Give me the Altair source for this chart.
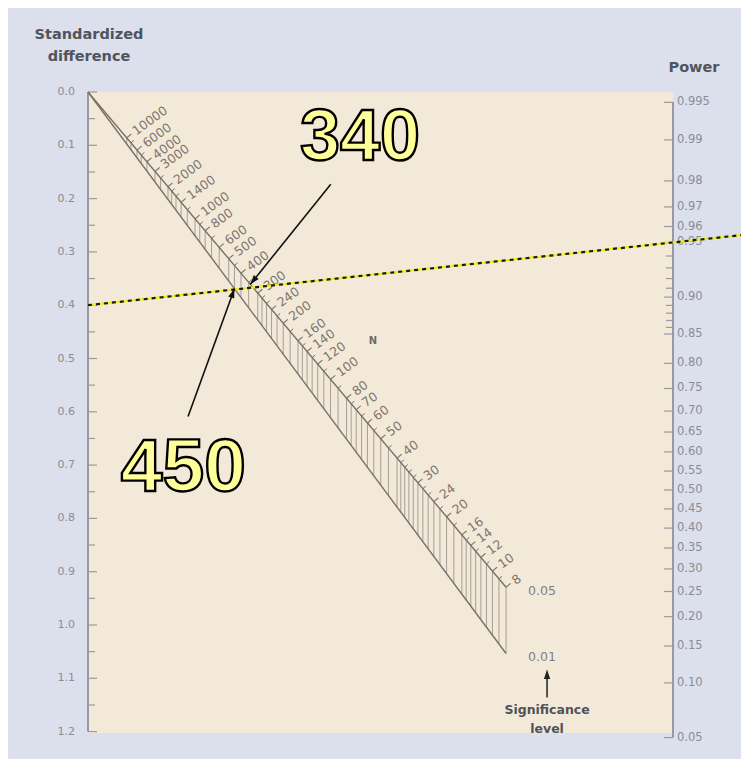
import math
import altair as alt
import pandas as pd
from statistics import NormalDist

# ---------------- data ----------------
diff_major = [0.0, 0.1, 0.2, 0.3, 0.4, 0.5, 0.6, 0.7, 0.8, 0.9, 1.0, 1.1, 1.2]
diff_labels = ["0.0", "0.1", "0.2", "0.3", "0.4", "0.5", "0.6", "0.7", "0.8", "0.9", "1.0",
               "1.1", "1.2"]
diff_minor = [0.05, 0.15, 0.25, 0.35, 0.45, 0.55, 0.65, 0.75, 0.85, 0.95, 1.05, 1.15]

power_major = [0.995, 0.99, 0.98, 0.97, 0.96, 0.95, 0.90, 0.85, 0.80, 0.75, 0.70, 0.65,
               0.60, 0.55, 0.50, 0.45, 0.40, 0.35, 0.30, 0.25, 0.20, 0.15, 0.10, 0.05]
power_labels = ["0.995", "0.99", "0.98", "0.97", "0.96", "0.95", "0.90", "0.85", "0.80",
                "0.75", "0.70", "0.65", "0.60", "0.55", "0.50", "0.45", "0.40", "0.35",
                "0.30", "0.25", "0.20", "0.15", "0.10", "0.05"]
power_minor = [0.94, 0.93, 0.92, 0.91, 0.89, 0.88, 0.87, 0.86]

n_major = [10000, 6000, 4000, 3000, 2000, 1400, 1000, 800, 600, 500, 400, 300, 240, 200,
           160, 140, 120, 100, 80, 70, 60, 50, 40, 30, 24, 20, 16, 14, 12, 10, 8]
n_minor = [9, 11, 13, 15, 18, 22, 26, 28, 32, 34, 36, 38, 45, 55, 65, 75, 90, 110, 130,
           150, 180, 220, 260, 280, 350, 450, 700, 900, 1200, 1600, 1800, 2500, 5000, 8000]

sig_levels = [0.05, 0.01]
sig_labels = ["0.05", "0.01"]

example_diff = 0.4
example_power = 0.95
callout_text = ["340", "450"]
callout_n = [340, 450]
callout_sig = [0.05, 0.01]

# ---------------- nomogram geometry (scale calibration) ----------------
W, H = 585, 641
PXD = 533.0      # px per unit standardized difference
Z0 = 398.0       # px from top where probit(power)=0
PXZ = 150.5      # px per probit unit
Y_MAX = H / PXD
nd = NormalDist()


def power_pos(p):
    return (Z0 - PXZ * nd.inv_cdf(p)) / PXD


def n_pos(n, alpha):
    za = nd.inv_cdf(1 - alpha / 2)
    t = PXD / (PXD + PXZ * math.sqrt(n) / 2)
    return t, t * (Z0 + PXZ * za) / PXD


t8, y8 = n_pos(8, 0.05)
line_ang = math.degrees(math.atan2(y8 * PXD, t8 * W))
perp = math.radians(line_ang - 90)
LABEL_ANGLE = (line_ang - 90 + 360 + 4) % 360

FONT = "DejaVu Sans"
AX = "#9a98a2"
LBL = "#8a8d97"
NCOL = "#7c766f"
TITLE = "#50545e"
BIG = "Liberation Sans"

xs = alt.Scale(domain=[0, 1], nice=False, zero=False)
ys = alt.Scale(domain=[0, Y_MAX], reverse=True, nice=False, zero=False)


def X(f):
    return alt.X(f, type="quantitative", scale=xs, axis=None)


def Y(f):
    return alt.Y(f, type="quantitative", scale=ys, axis=None)


layers = []

# ---- left axis ----
left_major = pd.DataFrame({"v": diff_major, "lab": diff_labels})
left_minor = pd.DataFrame({"v": diff_minor})
left_line = pd.DataFrame({"y1": [min(diff_major)], "y2": [max(diff_major)]})
layers.append(alt.Chart(left_line).mark_rule(color=AX, strokeWidth=2).encode(
    x=alt.value(0), y=Y("y1"), y2="y2"))
layers.append(alt.Chart(left_major).mark_rule(color=AX, strokeWidth=1.2).encode(
    y=Y("v"), x=alt.value(0), x2=alt.value(9)))
layers.append(alt.Chart(left_minor).mark_rule(color=AX, strokeWidth=1.2).encode(
    y=Y("v"), x=alt.value(0), x2=alt.value(7)))
layers.append(alt.Chart(left_major).mark_text(
    align="right", baseline="middle", dx=-13, font=FONT, fontSize=11, color=LBL).encode(
    x=alt.value(0), y=Y("v"), text="lab:N"))

# ---- right (power) axis ----
rmaj = pd.DataFrame({"p": power_major, "lab": power_labels})
rmaj["pos"] = rmaj["p"].map(power_pos)
rmaj["x"] = 1.0
rmin = pd.DataFrame({"p": power_minor})
rmin["pos"] = rmin["p"].map(power_pos)
rmin["x"] = 1.0
rline = pd.DataFrame({"x": [1.0], "y1": [power_pos(max(power_major))],
                      "y2": [power_pos(min(power_major))]})
layers.append(alt.Chart(rline).mark_rule(color=AX, strokeWidth=2).encode(
    x=X("x"), y=Y("y1"), y2="y2"))
layers.append(alt.Chart(rmaj).mark_rule(color=AX, strokeWidth=1.2, x2Offset=-9).encode(
    x=X("x"), x2="x", y=Y("pos")))
layers.append(alt.Chart(rmin).mark_rule(color=AX, strokeWidth=1.2, x2Offset=-7).encode(
    x=X("x"), x2="x", y=Y("pos")))
layers.append(alt.Chart(rmaj).mark_text(align="left", baseline="middle", dx=4, font=FONT,
                                        fontSize=11.5, color=LBL).encode(
    x=X("x"), y=Y("pos"), text="lab:N"))

# ---- N scale ----
rows = []
for n in n_major + n_minor:
    t, a = n_pos(n, 0.05)
    _, b = n_pos(n, 0.01)
    rows.append({"n": n, "t": t, "y05": a, "y01": b, "major": n in n_major})
nd_df = pd.DataFrame(rows)

layers.append(alt.Chart(nd_df).mark_rule(color="#9c968f", strokeWidth=0.9).encode(
    x=X("t"), y=Y("y05"), y2="y01"))

lrows = []
for s in sig_levels:
    te, ye = n_pos(min(n_major), s)
    lrows.append({"sig": str(s), "t": 0.0, "y": 0.0})
    lrows.append({"sig": str(s), "t": te, "y": ye})
layers.append(alt.Chart(pd.DataFrame(lrows)).mark_line(color="#77716a", strokeWidth=1.4).encode(
    x=X("t"), y=Y("y"), detail="sig:N"))

ox, oy = math.cos(perp), math.sin(perp)
layers.append(alt.Chart(nd_df[nd_df["major"]]).mark_rule(
    color="#77716a", strokeWidth=1.1, x2Offset=6 * ox, y2Offset=6 * oy).encode(
    x=X("t"), x2="t", y=Y("y05"), y2="y05"))
layers.append(alt.Chart(nd_df[~nd_df["major"]]).mark_rule(
    color="#77716a", strokeWidth=1.0, x2Offset=4 * ox, y2Offset=4 * oy).encode(
    x=X("t"), x2="t", y=Y("y05"), y2="y05"))

lab_df = nd_df[nd_df["major"]].copy()
lab_df["lab"] = lab_df["n"].astype(str)
layers.append(alt.Chart(lab_df).mark_text(
    align="left", baseline="middle", angle=LABEL_ANGLE, dx=9, font=FONT, fontSize=12.5,
    color=NCOL).encode(x=X("t"), y=Y("y05"), text="lab:N"))

ends = []
for s, lab in zip(sig_levels, sig_labels):
    te, ye = n_pos(min(n_major), s)
    ends.append({"t": te, "y": ye, "lab": lab})
ends_df = pd.DataFrame(ends)
layers.append(alt.Chart(ends_df).mark_text(
    align="left", baseline="middle", dx=22, dy=4, font=FONT, fontSize=12.5,
    color="#7d7f88").encode(x=X("t"), y=Y("y"), text="lab:N"))

low = ends_df.iloc[[1]]
layers.append(alt.Chart(low).mark_rule(color="#222222", strokeWidth=1.5, xOffset=41,
                                       yOffset=22, y2Offset=44).encode(
    x=X("t"), y=Y("y"), y2="y"))
layers.append(alt.Chart(low).mark_point(
    shape="M0,0L-0.6,1.8L0.6,1.8Z", size=110, filled=True, color="#222222", opacity=1,
    xOffset=41, yOffset=16).encode(x=X("t"), y=Y("y")))
layers.append(alt.Chart(low.assign(lab="Significance")).mark_text(
    align="center", baseline="middle", dx=41, dy=57, font=FONT, fontSize=12.5,
    fontWeight="bold", color="#4f525b").encode(x=X("t"), y=Y("y"), text="lab:N"))
layers.append(alt.Chart(low.assign(lab="level")).mark_text(
    align="center", baseline="middle", dx=41, dy=76, font=FONT, fontSize=12.5,
    fontWeight="bold", color="#4f525b").encode(x=X("t"), y=Y("y"), text="lab:N"))

layers.append(alt.Chart(pd.DataFrame({"t": [0.487], "y": [0.468], "lab": ["N"]})).mark_text(
    font=FONT, fontSize=10, fontWeight="bold", color="#6f6a66").encode(
    x=X("t"), y=Y("y"), text="lab:N"))

# ---- example line (yellow/black dashed) ----
y_right = power_pos(example_power)
t_ext = 1.14
ex_df = pd.DataFrame({"t": [0.0, t_ext],
                      "y": [example_diff, example_diff + t_ext * (y_right - example_diff)]})
layers.append(alt.Chart(ex_df).mark_line(color="#f2ee1a", strokeWidth=2.2).encode(
    x=X("t"), y=Y("y")))
layers.append(alt.Chart(ex_df).mark_line(color="#1a1a1a", strokeWidth=2.2,
                                         strokeDash=[4, 4]).encode(x=X("t"), y=Y("y")))

# ---- callouts ----
tails = [(0.415, 0.173), (0.171, 0.609)]
centers = [(0.465, 0.0865), (0.163, 0.705)]
sizes = [72, 75]
arr = []
for txt, n, s, (tt, ty), (ct, cy), fs in zip(callout_text, callout_n, callout_sig, tails,
                                             centers, sizes):
    tip_t, tip_y = n_pos(n, s)
    dxp = (tip_t - tt) * W
    dyp = (tip_y - ty) * PXD
    ang = math.degrees(math.atan2(dxp, -dyp)) % 360
    arr.append({"txt": txt, "t0": tt, "y0": ty, "t1": tip_t, "y1": tip_y, "ang": ang,
                "ct": ct, "cy": cy, "fs": fs})
arr_df = pd.DataFrame(arr)
layers.append(alt.Chart(arr_df).mark_rule(color="#111111", strokeWidth=1.6).encode(
    x=X("t0"), y=Y("y0"), x2="t1", y2="y1"))
layers.append(alt.Chart(arr_df).mark_point(
    shape="M0,0L-0.6,1.8L0.6,1.8Z", size=110, filled=True, color="#111111", opacity=1).encode(
    x=X("t1"), y=Y("y1"), angle=alt.Angle("ang:Q", scale=None)))
for i in range(len(arr_df)):
    layers.append(alt.Chart(arr_df.iloc[[i]]).mark_text(
        font=BIG, fontWeight="bold", fontSize=float(arr_df.iloc[i]["fs"]), fill="#ffff99",
        stroke="#000000", strokeWidth=2.4, align="center", baseline="middle").encode(
        x=X("ct"), y=Y("cy"), text="txt:N"))

# ---- titles ----
layers.append(alt.Chart(pd.DataFrame({"lab": ["Standardized"]})).mark_text(
    font=FONT, fontSize=14.5, fontWeight="bold", color=TITLE, align="center",
    baseline="middle").encode(x=alt.value(1), y=alt.value(-57), text="lab:N"))
layers.append(alt.Chart(pd.DataFrame({"lab": ["difference"]})).mark_text(
    font=FONT, fontSize=14.5, fontWeight="bold", color=TITLE, align="center",
    baseline="middle").encode(x=alt.value(1), y=alt.value(-35), text="lab:N"))
layers.append(alt.Chart(pd.DataFrame({"lab": ["Power"]})).mark_text(
    font=FONT, fontSize=14.5, fontWeight="bold", color=TITLE, align="center",
    baseline="middle").encode(x=alt.value(W + 21), y=alt.value(-24), text="lab:N"))

chart = alt.layer(*layers).properties(
    width=W, height=H, background="#dcdfec",
    padding={"left": 80, "top": 84, "right": 68, "bottom": 26},
    autosize=alt.AutoSizeParams(type="none"),
).configure_view(fill="#f3e9d9", stroke=None)

chart.save("out.html", embed_options={"renderer": "svg", "actions": False})
